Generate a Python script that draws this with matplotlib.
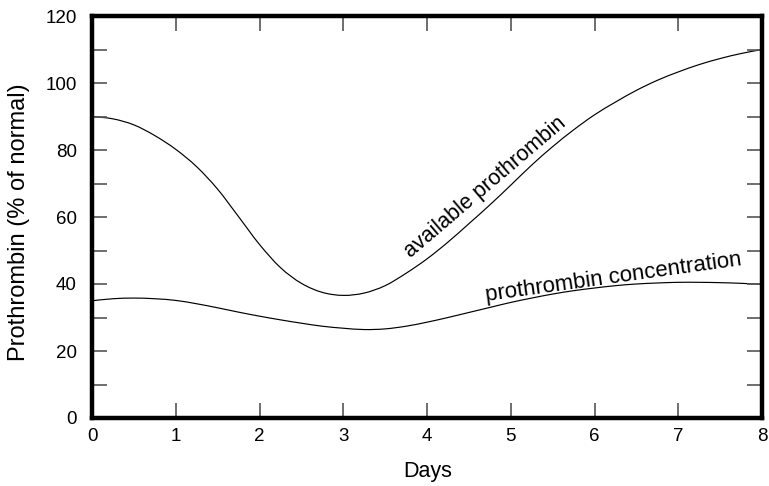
import matplotlib
matplotlib.use("Agg")
import matplotlib.pyplot as plt
from matplotlib.path import Path
from matplotlib.patches import PathPatch
import numpy as np

plt.rcParams['font.family'] = ['Liberation Sans', 'DejaVu Sans']

days = [0, 0.25, 0.5, 0.75, 1.0, 1.25, 1.5, 1.75, 2.0, 2.25, 2.5, 2.75, 3.0,
        3.25, 3.5, 3.75, 4.0, 4.25, 4.5, 4.75, 5.0, 5.25, 5.5, 5.75, 6.0,
        6.25, 6.5, 6.75, 7.0, 7.25, 7.5, 7.75, 8.0]
available = [90, 89.3, 87.5, 84.3, 80.2, 75.0, 68.3, 60.1, 51.8, 44.9, 40.2,
             37.5, 36.6, 37.3, 39.5, 43.2, 47.5, 52.5, 58.0, 63.6, 69.5,
             75.5, 81.0, 86.0, 90.5, 94.3, 97.8, 100.8, 103.3, 105.5, 107.3,
             108.8, 110]
concentration = [35, 35.6, 35.8, 35.6, 35.1, 34.1, 32.9, 31.6, 30.4, 29.3,
                 28.3, 27.4, 26.8, 26.4, 26.6, 27.4, 28.6, 30.0, 31.5, 33.0,
                 34.5, 35.8, 37.0, 38.0, 38.8, 39.5, 40.0, 40.3, 40.5, 40.5,
                 40.4, 40.2, 39.9]
x_ticks = [0, 1, 2, 3, 4, 5, 6, 7, 8]
y_ticks = [0, 20, 40, 60, 80, 100, 120]
y_minor = [10, 30, 50, 70, 90, 110]
labels = ['available prothrombin', 'prothrombin concentration']


def smooth_path(xs, ys):
    """Catmull-Rom curve through the points, drawn as cubic Bezier segments."""
    p = np.column_stack([xs, ys]).astype(float)
    verts = [p[0]]
    codes = [Path.MOVETO]
    n = len(p)
    for i in range(n - 1):
        p0 = p[i - 1] if i > 0 else p[i]
        p1 = p[i]
        p2 = p[i + 1]
        p3 = p[i + 2] if i + 2 < n else p[i + 1]
        c1 = p1 + (p2 - p0) / 6.0
        c2 = p2 - (p3 - p1) / 6.0
        verts += [c1, c2, p2]
        codes += [Path.CURVE4] * 3
    return Path(verts, codes)


fig = plt.figure(figsize=(7.69, 4.86), dpi=100)
ax = fig.add_axes([92/769, 1-418/486, (762-92)/769, (418-16)/486])

for ys in (available, concentration):
    ax.add_patch(PathPatch(smooth_path(days, ys), facecolor='none',
                           edgecolor='black', lw=0.85))

ax.set_xlim(0, 8)
ax.set_ylim(0, 120)
ax.set_xticks(x_ticks)
ax.set_yticks(y_ticks)
ax.set_yticks(y_minor, minor=True)
ax.tick_params(which='both', direction='in', length=11, width=1.2,
               color='#555555', top=True, right=True, labelsize=13.5)
ax.tick_params(axis='x', pad=7.5)
ax.tick_params(axis='y', pad=11)
for s in ax.spines.values():
    s.set_linewidth(3.2)
    s.set_color('black')

ax.set_xlabel('Days', fontsize=15.5)
ax.xaxis.set_label_coords(0.5015, -0.106)
ax.set_ylabel('Prothrombin (% of normal)', fontsize=17)
ax.yaxis.set_label_coords(-0.092, 0.486)

ax.text(4.70, 69.0, labels[0], rotation=40.5, fontsize=15.5,
        ha='center', va='center', rotation_mode='anchor')
ax.text(6.23, 42.0, labels[1], rotation=8, fontsize=16,
        ha='center', va='center', rotation_mode='anchor')

fig.savefig('out.png', dpi=100)
